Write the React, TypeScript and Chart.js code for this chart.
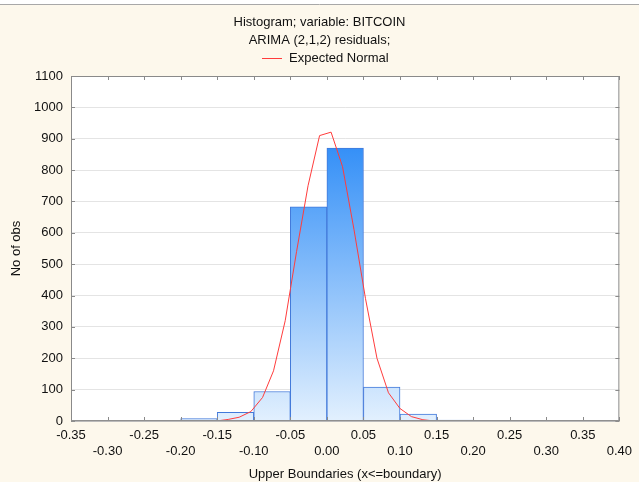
import React, { useEffect, useRef } from "react";
import { Chart, registerables } from "chart.js";

Chart.register(...registerables);

// Histogram bins (upper boundaries every 0.05) -> bin centres and counts
const binCenters = [-0.175, -0.125, -0.075, -0.025, 0.025, 0.075, 0.125, 0.175, 0.225];
const binCounts = [8, 28, 94, 683, 870, 108, 22, 3, 2];

// Expected normal curve
const normalX = [-0.151, -0.135, -0.12, -0.104, -0.088, -0.073, -0.057, -0.0415, -0.0258, -0.01, 0.0057, 0.0214, 0.0371, 0.0528, 0.0685, 0.0842, 0.0999, 0.1156, 0.1313, 0.147];
const normalY = [0, 5, 12, 30, 75, 160, 320, 540, 750, 910, 921, 811, 610, 390, 200, 90, 40, 14, 4, 0];

const titleLines = ["Histogram; variable: BITCOIN", "ARIMA (2,1,2) residuals;"];
const legendLabel = "Expected Normal";
const xTitle = "Upper Boundaries (x<=boundary)";
const yTitle = "No of obs";

const FONT = "'Liberation Sans', Arial, sans-serif";
const FS = 13;

const decorPlugin = {
  id: "decor",
  beforeDraw(chart: any) {
    const { ctx, width, height, chartArea } = chart;
    ctx.save();
    ctx.fillStyle = "#fdf8ec";
    ctx.fillRect(0, 0, width, height);
    ctx.fillStyle = "#ffffff";
    ctx.fillRect(0, 0, width, 4);
    ctx.strokeStyle = "#a8a8a8";
    ctx.lineWidth = 1;
    ctx.beginPath();
    ctx.moveTo(0, 4.5);
    ctx.lineTo(width, 4.5);
    ctx.stroke();
    ctx.fillStyle = "#ffffff";
    ctx.fillRect(chartArea.left, chartArea.top, chartArea.right - chartArea.left, chartArea.bottom - chartArea.top);
    // titles
    ctx.fillStyle = "#111";
    ctx.font = `${FS}px ${FONT}`;
    ctx.textAlign = "center";
    ctx.textBaseline = "middle";
    titleLines.forEach((t, i) => ctx.fillText(t, width / 2, 22 + i * 18));
    // legend
    ctx.strokeStyle = "#ff3c3c";
    ctx.beginPath();
    ctx.moveTo(262, 58.5);
    ctx.lineTo(282, 58.5);
    ctx.stroke();
    ctx.textAlign = "left";
    ctx.fillText(legendLabel, 289, 58);
    ctx.restore();
  },
  afterDraw(chart: any) {
    const { ctx, chartArea } = chart;
    const { left, right, top, bottom } = chartArea;
    const xs = chart.scales.x;
    const ys = chart.scales.y;
    ctx.save();
    ctx.strokeStyle = "#8a8a8a";
    ctx.lineWidth = 1;
    ctx.strokeRect(left + 0.5, top + 0.5, right - left - 1, bottom - top - 1);
    ctx.beginPath();
    xs.ticks.forEach((t: any) => {
      const px = Math.round(xs.getPixelForValue(t.value)) + 0.5;
      ctx.moveTo(px, bottom);
      ctx.lineTo(px, bottom - 4);
      ctx.moveTo(px, top);
      ctx.lineTo(px, top + 4);
    });
    ys.ticks.forEach((t: any) => {
      const py = Math.round(ys.getPixelForValue(t.value)) + 0.5;
      ctx.moveTo(left, py);
      ctx.lineTo(left + 4, py);
      ctx.moveTo(right, py);
      ctx.lineTo(right - 4, py);
    });
    ctx.stroke();
    ctx.strokeStyle = "#909090";
    ctx.lineWidth = 1.5;
    ctx.beginPath();
    ctx.moveTo(left, bottom - 0.25);
    ctx.lineTo(right, bottom - 0.25);
    ctx.stroke();
    ctx.restore();
  },
};

export default function App() {
  const canvasRef = useRef<HTMLCanvasElement | null>(null);

  useEffect(() => {
    const canvas = canvasRef.current;
    if (!canvas) return;
    const chart = new Chart(canvas, {
      type: "bar",
      data: {
        datasets: [
          {
            type: "line",
            label: legendLabel,
            data: normalX.map((x, i) => ({ x, y: normalY[i] })),
            borderColor: "#ff3c3c",
            borderWidth: 1,
            pointRadius: 0,
            tension: 0,
            fill: false,
            order: 0,
          } as any,
          {
            type: "bar",
            label: "Histogram",
            data: binCenters.map((x, i) => ({ x, y: binCounts[i] })),
            backgroundColor: (c: any) => {
              const ch = c.chart;
              if (!ch.chartArea) return "#8cc0fa";
              const y = ch.scales.y;
              const g = ch.ctx.createLinearGradient(0, y.getPixelForValue(0), 0, y.getPixelForValue(870));
              g.addColorStop(0, "#e2f0fe");
              g.addColorStop(1, "#3590f7");
              return g;
            },
            borderColor: "#4279da",
            borderWidth: 1,
            barPercentage: 1,
            categoryPercentage: 1,
            order: 1,
          } as any,
        ],
      },
      options: {
        responsive: false,
        animation: false,
        devicePixelRatio: 1,
        layout: { padding: { top: 76, right: 15, left: 0, bottom: 0 } },
        plugins: {
          legend: { display: false },
          title: { display: false },
          tooltip: { enabled: false },
        },
        scales: {
          x: {
            type: "linear",
            min: -0.35,
            max: 0.4,
            offset: false,
            grid: { display: false, offset: false, drawTicks: false },
            border: { display: false },
            afterFit: (s: any) => {
              s.height = 61;
            },
            ticks: {
              stepSize: 0.05,
              autoSkip: false,
              maxRotation: 0,
              minRotation: 0,
              padding: 7,
              color: "#111",
              font: { family: FONT, size: FS, lineHeight: 1.2 },
              callback: (value: any, index: number) => {
                const v = Number(value);
                const s = (Math.abs(v) < 1e-9 ? 0 : v).toFixed(2);
                return index % 2 === 0 ? s : ["", s];
              },
            },
            title: {
              display: true,
              text: xTitle,
              color: "#111",
              font: { family: FONT, size: FS },
              padding: { top: 0, bottom: 0 },
            },
          },
          y: {
            type: "linear",
            min: 0,
            max: 1100,
            grid: { color: "#e4e4e4", lineWidth: 1, drawTicks: false },
            border: { display: false },
            afterFit: (s: any) => {
              s.width = 71;
            },
            ticks: {
              stepSize: 100,
              padding: 8,
              color: "#111",
              font: { family: FONT, size: FS },
              callback: (value: any) => String(Math.round(Number(value))),
            },
            title: {
              display: true,
              text: yTitle,
              color: "#111",
              font: { family: FONT, size: FS },
              padding: { top: 9, bottom: 0 },
            },
          },
        },
      },
      plugins: [decorPlugin],
    });
    return () => chart.destroy();
  }, []);

  return (
    <div style={{ position: "absolute", left: 0, top: 0, width: 639, height: 482 }}>
      <canvas ref={canvasRef} width={639} height={482} style={{ display: "block", width: 639, height: 482 }} />
    </div>
  );
}
